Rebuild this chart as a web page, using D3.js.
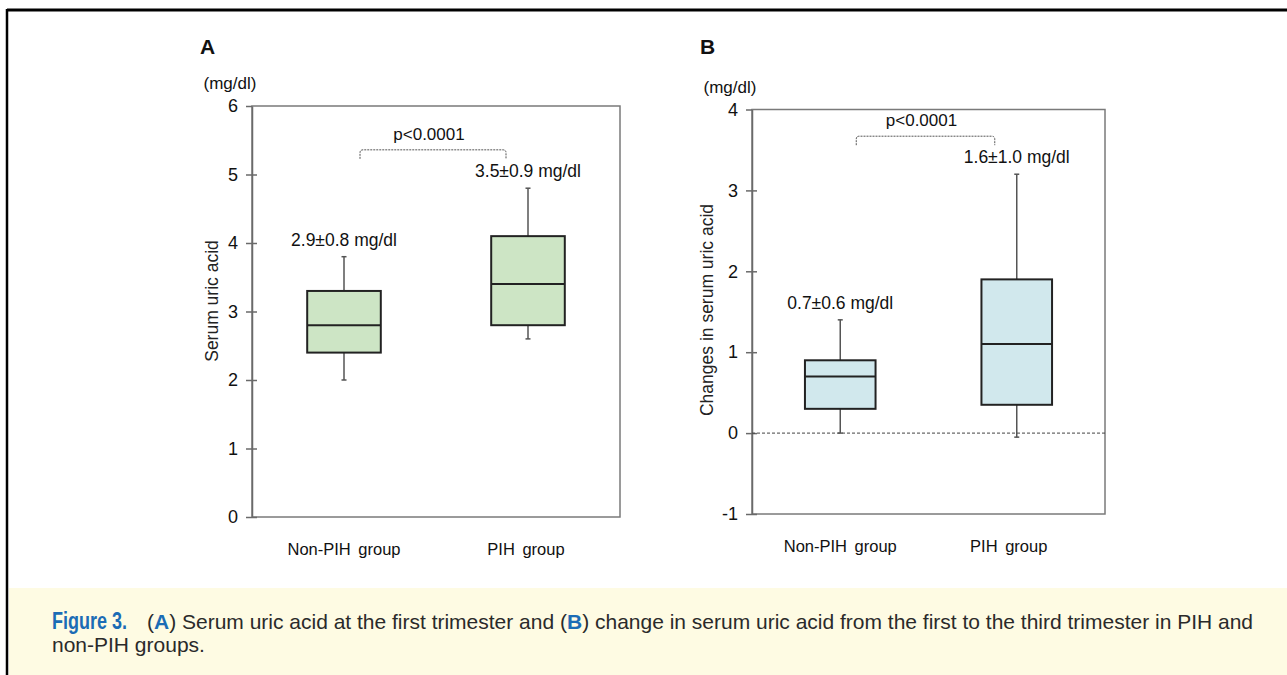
<!DOCTYPE html>
<html>
<head>
<meta charset="utf-8">
<script src="https://cdn.jsdelivr.net/npm/d3@7"></script>
<style>
  body { margin: 0; background: white; }
  svg { display: block; }
</style>
</head>
<body>
<div id="container"></div>
<script>
let w = 1287;
let h = 675;

// DATA
let groups = ["Non-PIH group", "PIH group"];

// panel A: serum uric acid at first trimester
let whiskerLowA = [2.0, 2.6];
let q1A = [2.4, 2.8];
let medianA = [2.8, 3.4];
let q3A = [3.3, 4.1];
let whiskerHighA = [3.8, 4.8];
let meanLabelsA = ["2.9\u00b10.8 mg/dl", "3.5\u00b10.9 mg/dl"];
let ticksA = [0, 1, 2, 3, 4, 5, 6];

// panel B: change in serum uric acid
let whiskerLowB = [0.0, -0.05];
let q1B = [0.3, 0.35];
let medianB = [0.7, 1.1];
let q3B = [0.9, 1.9];
let whiskerHighB = [1.4, 3.2];
let meanLabelsB = ["0.7\u00b10.6 mg/dl", "1.6\u00b11.0 mg/dl"];
let ticksB = [-1, 0, 1, 2, 3, 4];

let pValue = "p<0.0001";

let viz = d3.select("#container").append("svg")
    .attr("width", w)
    .attr("height", h)
    .style("font-family", "'Liberation Sans', Arial, sans-serif")
;

// outer frame
viz.append("rect")
    .attr("x", 9).attr("y", 588).attr("width", w - 9).attr("height", h - 588)
    .attr("fill", "#fefbe3");
viz.append("line")
    .attr("x1", 7).attr("x2", w).attr("y1", 10).attr("y2", 10)
    .attr("stroke", "black").attr("stroke-width", 3);
viz.append("line")
    .attr("x1", 7).attr("x2", 7).attr("y1", 9).attr("y2", h)
    .attr("stroke", "black").attr("stroke-width", 2.5);

function drawPanel(opt) {
  let g = viz.append("g");
  let xScale = d3.scalePoint().domain(groups).range([opt.left, opt.right]).padding(0.5);
  let yScale = d3.scaleLinear().domain(opt.domain).range([opt.bottom, opt.top]);
  let boxW = (opt.right - opt.left) * 0.2;

  // plot frame
  g.append("rect")
      .attr("x", opt.left).attr("y", opt.top)
      .attr("width", opt.right - opt.left).attr("height", opt.bottom - opt.top)
      .attr("fill", "none").attr("stroke", "#7a7a7a").attr("stroke-width", 1.5);

  // y axis
  let axis = g.append("g")
      .attr("transform", "translate(" + opt.left + ",0)")
      .call(d3.axisLeft(yScale).tickValues(opt.ticks).tickSize(6).tickSizeOuter(0).tickPadding(8).tickFormat(d => String(d)));
  axis.attr("font-size", null).attr("font-family", null);
  axis.select(".domain").attr("stroke", "#6a6a6a").attr("stroke-width", 1.5);
  axis.selectAll(".tick line").attr("x1", d => d == opt.domain[1] ? 0 : 5).attr("x2", -6)
      .attr("stroke", "#6a6a6a").attr("stroke-width", 1.5);
  axis.selectAll(".tick text")
      .style("font-size", "18px").attr("fill", "#111")
      .style("font-family", "'Liberation Sans', Arial, sans-serif");

  // zero reference line
  if (opt.zeroLine) {
    g.append("line")
        .attr("x1", opt.left).attr("x2", opt.right)
        .attr("y1", yScale(0)).attr("y2", yScale(0))
        .attr("stroke", "#444").attr("stroke-width", 1).attr("stroke-dasharray", "3,2");
  }

  // whiskers
  groups.forEach(function(grp, i) {
    let cx = xScale(grp);
    g.append("line")
        .attr("x1", cx).attr("x2", cx)
        .attr("y1", yScale(opt.low[i])).attr("y2", yScale(opt.high[i]))
        .attr("stroke", "#555").attr("stroke-width", 1.5);
    [opt.low[i], opt.high[i]].forEach(function(v) {
      g.append("line")
          .attr("x1", cx - 2.5).attr("x2", cx + 2.5)
          .attr("y1", yScale(v)).attr("y2", yScale(v))
          .attr("stroke", "#555").attr("stroke-width", 1.5);
    });
  });

  // boxes
  g.selectAll(".box").data(groups).enter()
    .append("rect")
      .attr("class", "box")
      .attr("x", d => xScale(d) - boxW / 2)
      .attr("y", (d, i) => yScale(opt.q3[i]))
      .attr("width", boxW)
      .attr("height", (d, i) => yScale(opt.q1[i]) - yScale(opt.q3[i]))
      .attr("fill", opt.fill)
      .attr("stroke", "#222")
      .attr("stroke-width", 2)
  ;
  g.selectAll(".median").data(groups).enter()
    .append("line")
      .attr("x1", d => xScale(d) - boxW / 2)
      .attr("x2", d => xScale(d) + boxW / 2)
      .attr("y1", (d, i) => yScale(opt.median[i]))
      .attr("y2", (d, i) => yScale(opt.median[i]))
      .attr("stroke", "#222").attr("stroke-width", 2)
  ;

  // mean labels
  g.selectAll(".meanlab").data(groups).enter()
    .append("text")
      .attr("x", d => xScale(d))
      .attr("y", (d, i) => yScale(opt.high[i]) - 11)
      .attr("text-anchor", "middle")
      .attr("font-size", 17.5)
      .attr("fill", "#111")
      .text((d, i) => opt.labels[i])
  ;

  // category labels
  g.selectAll(".cat").data(groups).enter()
    .append("text")
      .attr("x", (d, i) => xScale(d) - i * opt.catShift)
      .attr("y", opt.bottom + 38)
      .attr("text-anchor", "middle")
      .attr("font-size", 16.5)
      .attr("fill", "#111")
      .style("word-spacing", "3px")
      .text(d => d)
  ;

  // significance bracket
  let bx1 = xScale(groups[0]) + 16;
  let bx2 = xScale(groups[1]) - 22;
  let by = yScale(opt.sigY);
  let drop = 9;
  g.append("path")
      .attr("d", "M" + bx1 + "," + (by + drop) + " L" + bx1 + "," + (by + 3) + " Q" + bx1 + "," + by + " " + (bx1 + 3) + "," + by +
                 " L" + (bx2 - 3) + "," + by + " Q" + bx2 + "," + by + " " + bx2 + "," + (by + 3) + " L" + bx2 + "," + (by + drop))
      .attr("fill", "none").attr("stroke", "#555").attr("stroke-width", 1).attr("stroke-dasharray", "2,1");
  g.append("text")
      .attr("x", (bx1 + bx2) / 2 - 4)
      .attr("y", by - 10)
      .attr("text-anchor", "middle")
      .attr("font-size", 17)
      .attr("fill", "#111")
      .text(pValue);

  // unit, panel letter and y title
  g.append("text")
      .attr("x", opt.left - 22).attr("y", opt.top - 17)
      .attr("text-anchor", "middle").attr("font-size", 17).attr("fill", "#111")
      .text("(mg/dl)");
  g.append("text")
      .attr("x", opt.left - 52).attr("y", 54)
      .attr("font-size", 21).attr("font-weight", "bold").attr("fill", "#111")
      .text(opt.letter);
  g.append("text")
      .attr("transform", "translate(" + opt.titleX + "," + opt.titleY + ") rotate(-90)")
      .attr("text-anchor", "middle").attr("font-size", 17.5).attr("fill", "#222")
      .text(opt.title);
}

drawPanel({
  left: 252, right: 620, top: 106, bottom: 517,
  domain: [0, 6], ticks: ticksA, zeroLine: false,
  low: whiskerLowA, q1: q1A, median: medianA, q3: q3A, high: whiskerHighA,
  labels: meanLabelsA, fill: "#cde5c5", sigY: 5.36, catShift: 2,
  letter: "A", title: "Serum uric acid", titleX: 218, titleY: 301
});

drawPanel({
  left: 752, right: 1105, top: 109.5, bottom: 514,
  domain: [-1, 4], ticks: ticksB, zeroLine: true,
  low: whiskerLowB, q1: q1B, median: medianB, q3: q3B, high: whiskerHighB,
  labels: meanLabelsB, fill: "#d1e8ed", sigY: 3.67, catShift: 8,
  letter: "B", title: "Changes in serum uric acid", titleX: 713, titleY: 310
});

// caption
let cap = viz.append("g").attr("font-size", 21).attr("fill", "#2a2a2a")
    .style("font-family", "'Liberation Sans', Arial, sans-serif");
cap.append("text")
    .attr("x", 52).attr("y", 629)
    .attr("font-size", 23)
    .attr("font-weight", "bold").attr("fill", "#1b6cb5")
    .attr("textLength", 75).attr("lengthAdjust", "spacingAndGlyphs")
    .text("Figure 3.");
let line1 = cap.append("text").attr("x", 147).attr("y", 629)
    .attr("textLength", 1106).attr("lengthAdjust", "spacingAndGlyphs");
line1.append("tspan").text("(");
line1.append("tspan").attr("font-weight", "bold").attr("fill", "#1b6cb5").text("A");
line1.append("tspan").text(") Serum uric acid at the first trimester and (");
line1.append("tspan").attr("font-weight", "bold").attr("fill", "#1b6cb5").text("B");
line1.append("tspan").text(") change in serum uric acid from the first to the third trimester in PIH and");
cap.append("text").attr("x", 52).attr("y", 652).text("non-PIH groups.");
</script>
</body>
</html>
